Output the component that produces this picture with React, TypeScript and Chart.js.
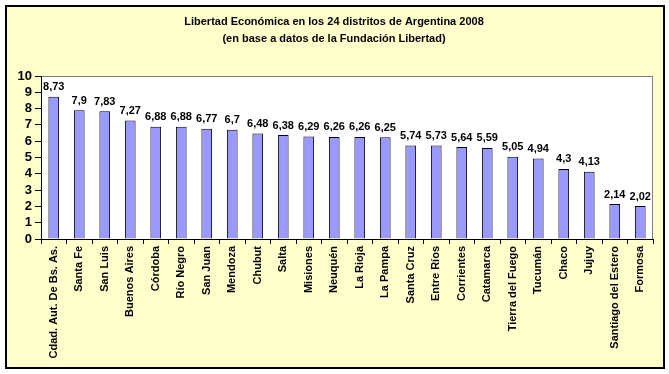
import React, { useEffect, useRef } from "react";
import { Chart, registerables } from "chart.js";

Chart.register(...registerables);

const categories = [
  "Cdad. Aut. De Bs. As.", "Santa Fe", "San Luis", "Buenos Aires", "Córdoba", "Río Negro",
  "San Juan", "Mendoza", "Chubut", "Salta", "Misiones", "Neuquén", "La Rioja", "La Pampa",
  "Santa Cruz", "Entre Ríos", "Corrientes", "Catamarca", "Tierra del Fuego", "Tucumán",
  "Chaco", "Jujuy", "Santiago del Estero", "Formosa",
];
const values = [
  8.73, 7.9, 7.83, 7.27, 6.88, 6.88, 6.77, 6.7, 6.48, 6.38, 6.29, 6.26,
  6.26, 6.25, 5.74, 5.73, 5.64, 5.59, 5.05, 4.94, 4.3, 4.13, 2.14, 2.02,
];
const titleLines = [
  "Libertad Económica en los 24 distritos de Argentina 2008",
  "(en base a datos de la Fundación Libertad)",
];

const FONT = "'Liberation Sans', Arial, sans-serif";

export default function App() {
  const ref = useRef<HTMLCanvasElement>(null);
  useEffect(() => {
    document.body.style.margin = "0";
    const plotBg = {
      id: "plotBg",
      beforeDraw(chart: any) {
        const { ctx, chartArea: a } = chart;
        ctx.save();
        ctx.fillStyle = "#ffffff";
        ctx.fillRect(a.left, a.top, a.right - a.left, a.bottom - a.top);
        ctx.strokeStyle = "#808080";
        ctx.lineWidth = 1;
        ctx.strokeRect(a.left + 0.5, a.top + 0.5, a.right - a.left - 1, a.bottom - a.top);
        ctx.restore();
      },
      afterDraw(chart: any) {
        const { ctx } = chart;
        ctx.save();
        ctx.fillStyle = "#000";
        ctx.font = `bold 11px ${FONT}`;
        ctx.textAlign = "center";
        ctx.textBaseline = "middle";
        ctx.fillText(titleLines[0], 334, 22);
        ctx.fillText(titleLines[1], 334, 39);
        ctx.restore();
      },
      afterDatasetsDraw(chart: any) {
        const { ctx } = chart;
        const meta = chart.getDatasetMeta(0);
        ctx.save();
        ctx.fillStyle = "#000";
        ctx.font = `bold 11px ${FONT}`;
        ctx.textAlign = "center";
        ctx.textBaseline = "bottom";
        meta.data.forEach((el: any, i: number) => {
          ctx.fillText(String(values[i]).replace(".", ","), el.x, el.y - 4);
        });
        ctx.restore();
      },
    };
    const chart = new Chart(ref.current!, {
      type: "bar",
      data: {
        labels: categories,
        datasets: [
          {
            data: values,
            backgroundColor: "#9999FF",
            borderColor: "#000000",
            borderWidth: 1,
            barPercentage: 0.42,
            categoryPercentage: 1,
          },
        ],
      },
      options: {
        responsive: false,
        animation: false,
        layout: { padding: { top: 76, left: 0, right: 16, bottom: 10 } },
        plugins: { legend: { display: false }, title: { display: false }, tooltip: { enabled: false } },
        scales: {
          x: {
            grid: { drawOnChartArea: false, drawTicks: true, tickLength: 5, color: "#000", offset: true },
            border: { color: "#000", width: 1 },
            ticks: {
              minRotation: 90,
              maxRotation: 90,
              autoSkip: false,
              padding: 2,
              color: "#000",
              font: { family: FONT, size: 11, weight: "bold" },
            },
            afterFit(scale: any) {
              scale.height = 125;
            },
          },
          y: {
            min: 0,
            max: 10,
            grid: { drawOnChartArea: false, drawTicks: true, tickLength: 6, color: "#000" },
            border: { color: "#000", width: 1 },
            ticks: {
              stepSize: 1,
              autoSkip: false,
              padding: 3,
              color: "#000",
              font: { family: FONT, size: 13, weight: "bold" },
            },
            afterFit(scale: any) {
              scale.width = 41;
            },
          },
        },
      },
      plugins: [plotBg],
    });
    return () => chart.destroy();
  }, []);

  return (
    <div style={{ position: "absolute", left: 0, top: 0, width: 669, height: 374, background: "#fff" }}>
      <div
        style={{
          position: "absolute",
          left: 5,
          top: 5,
          width: 656,
          height: 360,
          background: "#FFFFCC",
          border: "2px solid #000",
        }}
      />
      <canvas ref={ref} width={669} height={374} style={{ position: "absolute", left: 0, top: 0 }} />
    </div>
  );
}
